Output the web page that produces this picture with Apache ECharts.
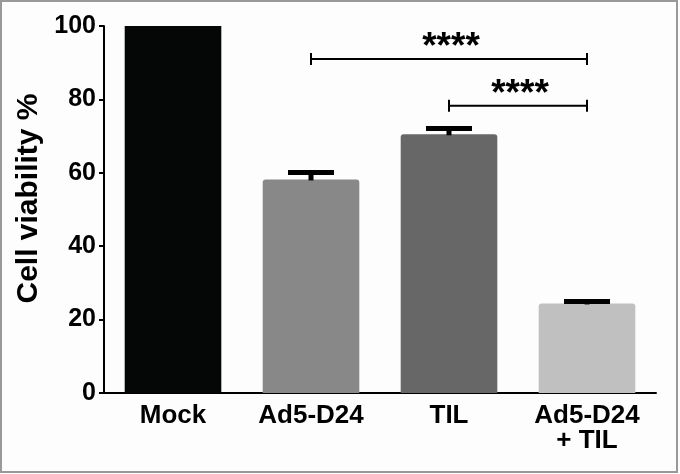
<!DOCTYPE html>
<html>
<head>
<meta charset="utf-8">
<script src="https://cdn.jsdelivr.net/npm/echarts@6/dist/echarts.min.js"></script>
<style>
html,body{margin:0;padding:0;background:#ffffff;}
#chart{width:680px;height:474px;}
</style>
</head>
<body>
<div id="chart"></div>
<script>
const categories = ['Mock', 'Ad5-D24', 'TIL', 'Ad5-D24\n+ TIL'];
const means = [100, 58.2, 70.5, 24.4];
const errors = [0, 1.9, 1.6, 0.5];
const barColors = ['#050707', '#888888', '#666766', '#c0c0c0'];
const yTicks = [0, 20, 40, 60, 80, 100];
const bracketFrom = [1, 2];
const bracketTo = [3, 3];
const bracketY = [91, 78.3];
const bracketLabels = ['****', '****'];

const FONT = '"Liberation Sans", Arial, Helvetica, sans-serif';

const chart = echarts.init(document.getElementById('chart'), null, {renderer: 'canvas'});

const barData = means.map((v, i) => ({
  value: v,
  itemStyle: {color: barColors[i], borderRadius: i === 0 ? 0 : [3, 3, 0, 0]}
}));

const errData = means.map((v, i) => [i, v, v + errors[i]]);
const bracketData = bracketFrom.map((f, i) => [f, bracketTo[i], bracketY[i], i]);

const option = {
  backgroundColor: '#fdfdfd',
  animation: false,
  grid: {left: 104, right: 24, top: 26, bottom: 81, containLabel: false, outerBoundsMode: 'none'},
  xAxis: {
    type: 'category',
    data: categories,
    axisLine: {lineStyle: {color: '#000', width: 2}},
    axisTick: {alignWithLabel: true, length: 4, lineStyle: {color: '#000', width: 2}},
    axisLabel: {color: '#000', fontFamily: FONT, fontWeight: 'bold', fontSize: 26, lineHeight: 25, margin: 10, interval: 0}
  },
  yAxis: {
    type: 'value',
    min: 0, max: 100, interval: 20,
    name: 'Cell viability %',
    nameLocation: 'middle',
    nameRotate: 90,
    nameGap: 49,
    nameTextStyle: {color: '#000', fontFamily: FONT, fontWeight: 'bold', fontSize: 30, padding: [0, 0, 0, 22]},
    axisLine: {show: true, lineStyle: {color: '#000', width: 2}},
    axisTick: {show: true, length: 5, lineStyle: {color: '#000', width: 2}},
    splitLine: {show: false},
    axisLabel: {
      color: '#000', fontFamily: FONT, fontWeight: 'bold', fontSize: 25, margin: 8,
      customValues: yTicks
    }
  },
  series: [
    {
      type: 'bar',
      data: barData,
      barCategoryGap: '30%',
      z: 2
    },
    {
      type: 'custom',
      z: 3,
      data: errData,
      renderItem: function (params, api) {
        const x = api.value(0);
        const top = api.coord([x, api.value(1)]);
        const hi = api.coord([x, api.value(2)]);
        if (api.value(2) === api.value(1)) return null;
        return {
          type: 'group',
          children: [
            {type: 'rect', shape: {x: top[0] - 2.5, y: hi[1], width: 5, height: top[1] - hi[1] + 1}, style: {fill: '#000'}},
            {type: 'rect', shape: {x: top[0] - 23, y: hi[1] - 2.5, width: 46, height: 5}, style: {fill: '#000'}}
          ]
        };
      }
    },
    {
      type: 'custom',
      z: 4,
      data: bracketData,
      renderItem: function (params, api) {
        const i = api.value(3);
        const p1 = api.coord([api.value(0), api.value(2)]);
        const p2 = api.coord([api.value(1), api.value(2)]);
        const mid = (p1[0] + p2[0]) / 2;
        const st = {stroke: '#000', lineWidth: 2};
        return {
          type: 'group',
          children: [
            {type: 'line', shape: {x1: p1[0], y1: p1[1], x2: p2[0], y2: p2[1]}, style: st},
            {type: 'line', shape: {x1: p1[0], y1: p1[1] - 6, x2: p1[0], y2: p1[1] + 6}, style: st},
            {type: 'line', shape: {x1: p2[0], y1: p2[1] - 6, x2: p2[0], y2: p2[1] + 6}, style: st},
            {type: 'text', x: mid + 2, y: p1[1] - 11, style: {text: bracketLabels[i], fill: '#000', font: 'bold 37px ' + FONT, textAlign: 'center', textVerticalAlign: 'middle'}}
          ]
        };
      }
    }
  ],
  graphic: [
    {type: 'rect', shape: {x: 1, y: 1, width: 676, height: 471}, style: {fill: 'none', stroke: '#999', lineWidth: 2}, z: 100, silent: true}
  ]
};

chart.setOption(option);
</script>
</body>
</html>
